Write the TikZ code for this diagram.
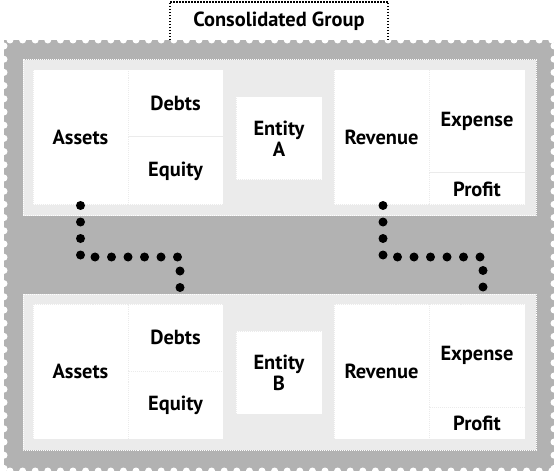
\documentclass[tikz,border=0pt]{standalone}
\usepackage{fontspec}
\setmainfont{PT Sans}
\definecolor{stampgray}{HTML}{B2B2B2}
\definecolor{panelgray}{HTML}{EBEBEB}
\tikzset{
  panel/.style={fill=panelgray, draw=white, densely dotted, line width=1bp},
  cell/.style={fill=white, draw=panelgray, densely dotted, line width=1bp, inner sep=0pt,
    align=center, font=\fontsize{20.5}{21}\selectfont\bfseries, text=black},
  dotline/.style={line width=9bp, line cap=round, dash pattern=on 0bp off 16.5bp}
}
\begin{document}
\begin{tikzpicture}[x=1bp, y=-1bp, line join=round]
	\useasboundingbox (0,0) rectangle (556,474);
	% stamp with perforated edge
	\fill[stampgray] (4,40) rectangle (554,471);
	\foreach \x in {0,...,43}
	\fill[white] (10+12.6*\x,40) circle (3.5bp) (10+12.6*\x,471) circle (3.5bp);
	\foreach \y in {0,...,32}
	\fill[white] (4,46+13.2*\y) circle (3.5bp) (554,46+13.2*\y) circle (3.5bp);
	% group label
	\node[font=\fontsize{20.5}{21}\selectfont\bfseries, minimum width=218bp, minimum height=38bp, inner sep=0pt] (group) at (279,21) {Consolidated Group};
	\draw[line width=2bp, dash pattern=on 1.5bp off 1.5bp] (group.south west) |- (group.north east) -- (group.south east);
	% the two entities
	\foreach \e/\py in {A/60, B/294}{
		\draw[panel] (23,\py) rectangle (536,\py+156);
		\node[cell, minimum width=95bp, minimum height=135bp] (assets\e) at (80.5,\py+77.5) {Assets};
		\node[cell, minimum width=95bp, minimum height=67bp] (debts\e) at (175.5,\py+43.5) {Debts};
		\node[cell, minimum width=95bp, minimum height=68bp] (equity\e) at (175.5,\py+111) {Equity};
		\node[cell, minimum width=86bp, minimum height=83bp] (entity\e) at (279,\py+78.5) {Entity\\\e};
		\node[cell, minimum width=95bp, minimum height=135bp] (revenue\e) at (381.5,\py+77.5) {Revenue};
		\node[cell, minimum width=96bp, minimum height=103bp] (expense\e) at (477,\py+61.5) {Expense};
		\node[cell, minimum width=96bp, minimum height=32bp] (profit\e) at (477,\py+129) {Profit};
	}
	% eliminations
	\coordinate (lane) at (0,257);
	\draw[dotline] (assetsA.south) -- (assetsA.south |- lane) -| ([xshift=4.5bp]debtsB.north);
	\draw[dotline] ([xshift=1.5bp]revenueA.south) -- ([xshift=1.5bp]revenueA.south |- lane) -| ([xshift=6bp]expenseB.north);
\end{tikzpicture}
\end{document}
